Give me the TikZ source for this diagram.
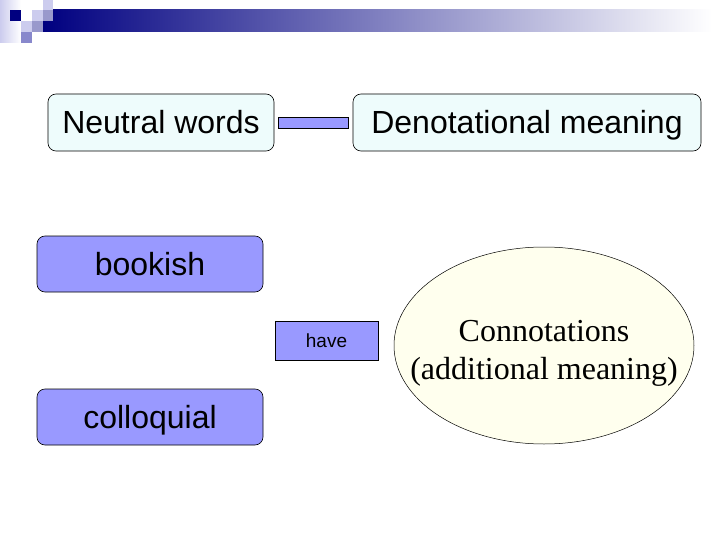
\documentclass[tikz,border=0pt]{standalone}
\usepackage{fontspec}
\usepackage{tikz}
\usetikzlibrary{shapes.geometric}
\setmainfont{Liberation Sans}
\newfontfamily\serifface{Liberation Serif}
\definecolor{colNavy}{HTML}{000080}
\definecolor{colPale}{HTML}{EEFCFC}
\definecolor{colLav}{HTML}{9999FF}
\definecolor{colIvory}{HTML}{FFFFEE}
\definecolor{colSqLight}{HTML}{CCCCEE}
\definecolor{colSqMid}{HTML}{9999CC}
\definecolor{colSqDeep}{HTML}{8888CC}
\tikzset{
  palebox/.style={draw=black, fill=colPale, rounded corners=8pt, line width=0.6pt,
    minimum height=57pt, inner sep=0pt, text height=29pt, text depth=6pt,
    font=\fontsize{32}{38}\selectfont},
  lavbox/.style={draw=black, fill=colLav, rounded corners=8pt, line width=0.6pt,
    minimum width=226pt, minimum height=56pt, inner sep=0pt, text height=29pt, text depth=6pt,
    font=\fontsize{32}{38}\selectfont},
  linkbox/.style={draw=black, fill=colLav, line width=0.6pt, minimum width=70pt,
    minimum height=11pt, inner sep=0pt},
  havebox/.style={draw=black, fill=colLav, line width=0.6pt, minimum width=103pt,
    minimum height=39pt, inner sep=0pt, text height=17pt, text depth=3.4pt,
    font=\fontsize{19}{23}\selectfont},
  connell/.style={ellipse, draw=black, fill=colIvory, line width=0.5pt, minimum width=300pt,
    minimum height=197pt, inner sep=0pt,
    font=\serifface\fontsize{32}{38}\selectfont}
}
\begin{document}
\begin{tikzpicture}[x=1pt, y=-1pt]
    \useasboundingbox (0,0) rectangle (720,540);
    \fill[white] (0,0) rectangle (720,540);
    % Title bar
    \shade[left color=colNavy, right color=white] (43,10) rectangle (712,32);
    \shade[left color=colSqLight, right color=white] (0,0) rectangle (21,43);
    \fill[colNavy] (10,10) rectangle (21,21);
    \fill[colSqLight] (32,10) rectangle (43,21);
    \fill[colSqLight] (43,0) rectangle (53,10);
    \fill[colSqMid] (43,10) rectangle (53,21);
    \fill[colSqLight] (21,21) rectangle (32,32);
    \fill[colSqMid] (32,21) rectangle (43,32);
    \fill[colSqDeep] (21,32) rectangle (32,43);
    % Top row
    \node[palebox, minimum width=226pt] (neutral) at (161,122.5) {Neutral words};
    \node[palebox, minimum width=348pt] (denot) at (527,122.5) {Denotational meaning};
    \path (neutral.east) -- (denot.west) node[midway, linkbox] (link) {};
    % Word groups
    \node[lavbox] (bookish) at (150,264) {bookish};
    \node[lavbox] (colloq) at (150,417) {colloquial};
    \node[havebox] (have) at (326.5,340.5) {have};
    \node[connell] (conn) at (544,345.5)
      {\raisebox{-14pt}[0pt][0pt]{\makebox[0pt]{\begin{tabular}{@{}c@{}}Connotations\\(additional meaning)\end{tabular}}}};
\end{tikzpicture}
\end{document}
